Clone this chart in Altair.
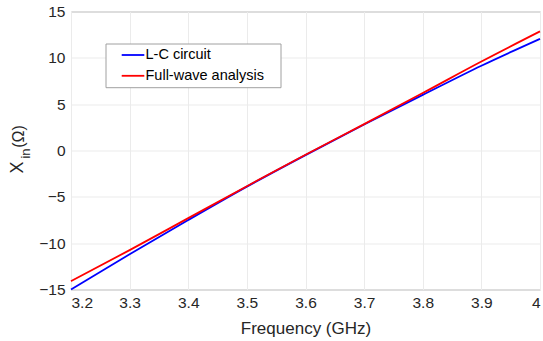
import altair as alt
import pandas as pd

# Input reactance of the resonator vs. frequency
freq_ghz = [3.2, 3.3, 3.4, 3.5, 3.6, 3.7, 3.8, 3.9, 4.0]
xin_lc = [-15.0, -11.2, -7.5, -3.9, -0.5, 2.8, 6.0, 9.15, 12.05]
xin_fullwave = [-14.1, -10.75, -7.3, -3.85, -0.45, 2.85, 6.2, 9.6, 12.85]

series_names = ["L-C circuit", "Full-wave analysis"]
series_colors = ["#0000ff", "#ff0000"]

x_ticks = [3.2, 3.3, 3.4, 3.5, 3.6, 3.7, 3.8, 3.9, 4.0]
y_ticks = [-15, -10, -5, 0, 5, 10, 15]

FONT = "Liberation Sans"
TXT = "#262626"
W, H = 469, 278

df = pd.DataFrame({
    "freq": freq_ghz + freq_ghz,
    "xin": xin_lc + xin_fullwave,
    "series": [series_names[0]] * len(freq_ghz) + [series_names[1]] * len(freq_ghz),
})

color_scale = alt.Scale(domain=series_names, range=series_colors)

lines = alt.Chart(df).mark_line(strokeWidth=1.8, interpolate="monotone").encode(
    x=alt.X(
        "freq:Q",
        scale=alt.Scale(domain=[3.2, 4.0], nice=False, zero=False),
        axis=alt.Axis(
            values=x_ticks, format=".1~f", title="Frequency (GHz)",
            labelFontSize=15.5, labelPadding=6, titleFontSize=17,
            titleBaseline="alphabetic", titleY=44,
        ),
    ),
    y=alt.Y(
        "xin:Q",
        scale=alt.Scale(domain=[-15, 15], nice=False, zero=False),
        axis=alt.Axis(values=y_ticks, title=None, labelFontSize=15.5, labelPadding=6),
    ),
    color=alt.Color("series:N", scale=color_scale, legend=None),
    detail="series:N",
)

one = pd.DataFrame({"k": [0]})

# y-axis title: X with subscript "in", then (Ω)
ytitle_parts = [
    ("X", 18, -53, 156),
    ("in", 13, -45.5, 142),
    ("(Ω)", 16, -52.5, 125),
]
ytitle = [
    alt.Chart(one).mark_text(
        text=t, angle=270, fontSize=fs, font=FONT, color=TXT,
        align="center", baseline="middle",
    ).encode(x=alt.value(xp), y=alt.value(yp))
    for t, fs, xp, yp in ytitle_parts
]

# legend box
box = alt.Chart(one).mark_rect(fill="white", stroke="#a0a0a0", strokeWidth=1).encode(
    x=alt.value(35), x2=alt.value(210), y=alt.value(32.5), y2=alt.value(76.2)
)

legend_layers = []
for i, name in enumerate(series_names):
    row = pd.DataFrame({"series": [name]})
    yp = 43.5 + 20.8 * i
    legend_layers.append(
        alt.Chart(row).mark_rule(strokeWidth=1.8).encode(
            x=alt.value(50.7), x2=alt.value(73.3), y=alt.value(yp),
            color=alt.Color("series:N", scale=color_scale, legend=None),
        )
    )
    legend_layers.append(
        alt.Chart(row).mark_text(
            align="left", baseline="middle", fontSize=14.5, font=FONT, color="#000000"
        ).encode(x=alt.value(74.5), y=alt.value(yp), text="series:N")
    )

chart = alt.layer(lines, box, *legend_layers, *ytitle).properties(
    width=W, height=H,
    autosize=alt.AutoSizeParams(type="none"),
    padding={"left": 71, "top": 11.5, "right": 3, "bottom": 51.5},
    background="white",
).configure_view(
    stroke="#a0a0a0", strokeWidth=1
).configure_axis(
    labelFont=FONT, titleFont=FONT, labelColor=TXT, titleColor=TXT,
    titleFontWeight="normal", grid=True, gridColor="#ebebeb", gridWidth=1,
    domain=False, tickSize=0,
)

chart.save("out.html", embed_options={"renderer": "svg", "actions": False})
